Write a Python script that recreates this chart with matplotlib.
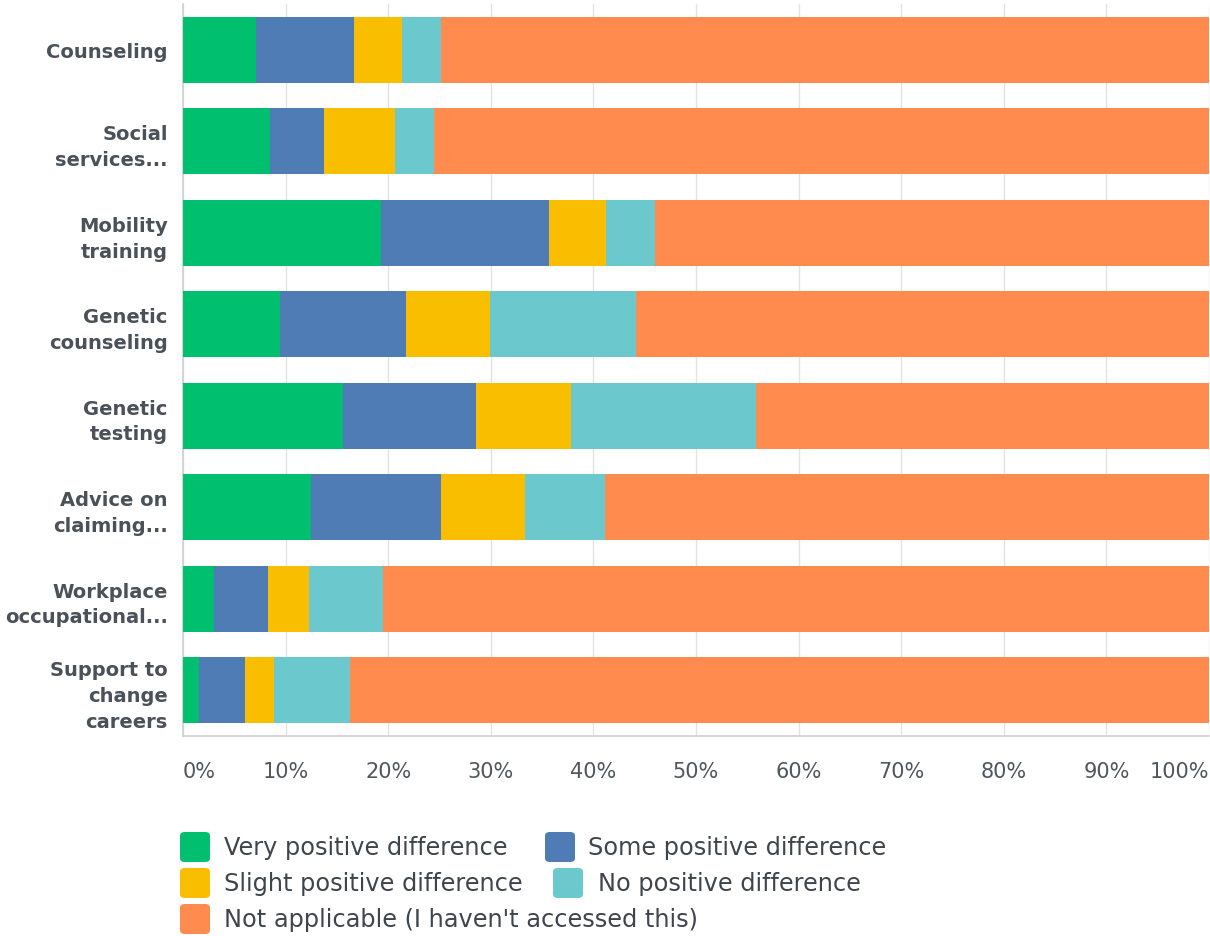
import numpy as np
import matplotlib
matplotlib.use("Agg")
import matplotlib.pyplot as plt
from matplotlib.patches import FancyBboxPatch

categories = ["Counseling", "Social\nservices...", "Mobility\ntraining", "Genetic\ncounseling",
              "Genetic\ntesting", "Advice on\nclaiming...", "Workplace\noccupational...",
              "Support to\nchange\ncareers"]
series_names = ["Very positive difference", "Some positive difference",
                "Slight positive difference", "No positive difference",
                "Not applicable (I haven't accessed this)"]
very_pos = [7.1, 8.5, 19.3, 9.5, 15.6, 12.5, 3.0, 1.6]
some_pos = [9.6, 5.2, 16.4, 12.2, 13.0, 12.6, 5.3, 4.4]
slight_pos = [4.6, 7.0, 5.5, 8.2, 9.2, 8.2, 4.0, 2.9]
no_pos = [3.8, 3.8, 4.8, 14.3, 18.0, 7.8, 7.2, 7.4]
not_applicable = [75.0, 75.5, 54.0, 55.8, 44.2, 58.9, 80.5, 83.7]
tick_values = [0, 10, 20, 30, 40, 50, 60, 70, 80, 90, 100]
tick_labels = ["0%", "10%", "20%", "30%", "40%", "50%", "60%", "70%", "80%", "90%", "100%"]

colors = ["#00bf6f", "#507cb6", "#f9be00", "#6bc8cd", "#ff8b4f"]
label_col = "#4b5158"

fig = plt.figure(figsize=(12.1, 9.37), dpi=100)
ax = fig.add_axes([183/1210, 1 - 737/937, 1026/1210, 732/937])

y = np.arange(len(categories))
left = np.zeros(len(categories))
for vals, c, name in zip([very_pos, some_pos, slight_pos, no_pos, not_applicable], colors, series_names):
    ax.barh(y, vals, left=left, height=0.72, color=c, label=name, zorder=3)
    left = left + np.array(vals)

ax.set_xlim(0, 100)
ax.set_ylim(len(categories) - 0.5, -0.5)
ax.set_yticks(y)
ax.set_yticklabels(categories, fontsize=14, fontweight="bold", color=label_col,
                   linespacing=1.45)
ax.tick_params(axis="y", length=0, pad=11)
ax.set_xticks(tick_values)
ax.set_xticklabels(tick_labels, fontsize=15, color="#50565d")
ax.tick_params(axis="x", length=0, pad=18)
xt = ax.get_xticklabels()
xt[0].set_horizontalalignment("left")
xt[-1].set_horizontalalignment("right")

ax.grid(axis="x", color="#e3e3e3", linewidth=1, zorder=0)
for s in ["top", "right"]:
    ax.spines[s].set_visible(False)
for s in ["left", "bottom"]:
    ax.spines[s].set_color("#d0d0d0")
    ax.spines[s].set_linewidth(1.2)

# legend, flow layout like the original
W, H = 1210, 937
legend_items = [
    (0, 180, 224, 848),
    (1, 545, 588, 848),
    (2, 180, 224, 884),
    (3, 553, 598, 884),
    (4, 180, 224, 920),
]
for idx, sx, tx, cy in legend_items:
    box = FancyBboxPatch(((sx) / W, 1 - (cy + 15) / H), 30 / W, 30 / H,
                         boxstyle="round,pad=0,rounding_size=0.004",
                         transform=fig.transFigure, facecolor=colors[idx],
                         edgecolor="none")
    fig.patches.append(box)
    fig.text(tx / W, 1 - cy / H, series_names[idx], fontsize=17.3, color="#3f454c",
             va="center", ha="left")

fig.savefig("out.png", dpi=100)
